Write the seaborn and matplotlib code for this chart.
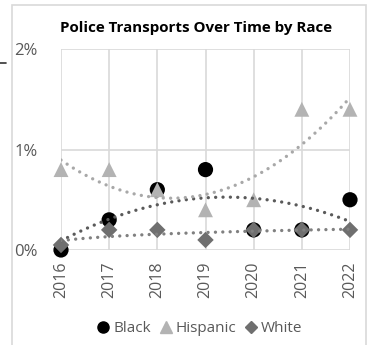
import matplotlib
matplotlib.use("Agg")
import matplotlib.pyplot as plt
import matplotlib.patches as mpatches
from matplotlib.lines import Line2D
import seaborn as sns
import pandas as pd
import numpy as np

years = ["2016", "2017", "2018", "2019", "2020", "2021", "2022"]
black = [0.0, 0.3, 0.6, 0.8, 0.2, 0.2, 0.5]
hispanic = [0.8, 0.8, 0.6, 0.4, 0.5, 1.4, 1.4]
white = [0.05, 0.2, 0.2, 0.1, 0.2, 0.2, 0.2]
yticks = [0, 1, 2]
ytick_labels = ["0%", "1%", "2%"]
title = "Police Transports Over Time by Race"

sns.set_theme(style="white")
plt.rcParams["font.family"] = ["Open Sans", "DejaVu Sans"]

fig = plt.figure(figsize=(3.68, 3.45), dpi=100)
W, H = 368, 345
# outer chart border
fig.patches.append(mpatches.Rectangle((12 / W, -0.05), (366 - 12) / W, 1 - 5 / H + 0.05,
                                      transform=fig.transFigure, fill=False,
                                      edgecolor="#d9d9d9", linewidth=1.2))
# small stray dash at left
fig.add_artist(Line2D([0 / W, 6 / W], [1 - 63 / H, 1 - 63 / H], transform=fig.transFigure,
                      color="#333333", linewidth=1.2))

left, right, top, bottom = 61 / W, 350 / W, 1 - 49 / H, 1 - 250 / H
ax = fig.add_axes([left, bottom, right - left, top - bottom])

idx = np.arange(1, len(years) + 1)
df = pd.DataFrame({"idx": idx, "Black": black, "Hispanic": hispanic, "White": white})

series = [
    ("Black", "o", "#000000", 120, "#5a5a5a", dict(order=2)),
    ("Hispanic", "^", "#b3b3b3", 115, "#a8a8a8", dict(order=2)),
    ("White", "D", "#6f6f6f", 70, "#808080", dict(logx=True)),
]
for name, mk, col, s, tcol, fit in series:
    sns.scatterplot(data=df, x="idx", y=name, marker=mk, color=col, s=s,
                    edgecolor="none", ax=ax, clip_on=False, zorder=3)
for name, mk, col, s, tcol, fit in series:
    sns.regplot(data=df, x="idx", y=name, scatter=False, ci=None, ax=ax, truncate=True,
                line_kws=dict(color=tcol, linestyle=(0, (0.01, 2.2)), linewidth=2.4,
                              dash_capstyle="round", solid_capstyle="round", zorder=4),
                **fit)

ax.set_xlim(1, len(years))
ax.set_ylim(0, 2)
ax.set_xticks(idx)
ax.set_xticklabels(years, rotation=90, fontsize=11.5, color="#595959")
ax.set_yticks(yticks)
ax.set_yticklabels(ytick_labels, fontsize=12, color="#595959")
ax.tick_params(axis="y", pad=17, length=0)
ax.tick_params(axis="x", pad=8, length=0)
ax.grid(True, color="#d9d9d9", linewidth=1.2)
for sp in ax.spines.values():
    sp.set_visible(False)
ax.set_xlabel("")
ax.set_ylabel("")

fig.text(196 / W, 1 - 28 / H, title, ha="center", va="center", fontsize=10.9,
         fontweight="bold", color="#000000")

handles = [
    Line2D([], [], marker="o", color="#000000", linestyle="none", markersize=8),
    Line2D([], [], marker="^", color="#b3b3b3", linestyle="none", markersize=8),
    Line2D([], [], marker="D", color="#6f6f6f", linestyle="none", markersize=6),
]
fig.legend(handles, ["Black", "Hispanic", "White"], loc="center",
           bbox_to_anchor=(199 / W, 1 - 329 / H), ncol=3, frameon=False,
           fontsize=11, handletextpad=0.15, columnspacing=0.45, handlelength=1.0,
           labelcolor="#595959")

fig.savefig("out.png", dpi=100)
